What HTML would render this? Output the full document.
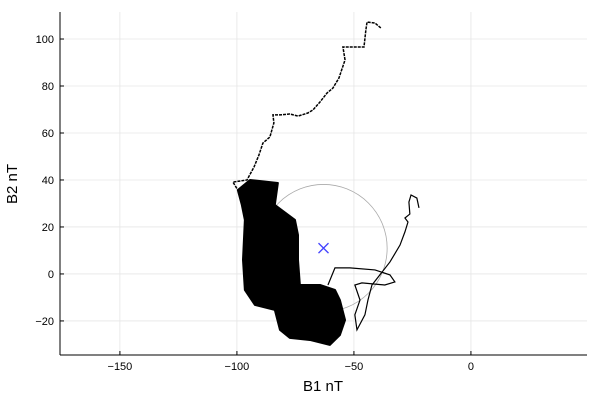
<!DOCTYPE html>
<html><head><meta charset="utf-8"><style>
body{margin:0;background:#fff}
svg{display:block;font-family:"Liberation Sans",sans-serif}
</style></head><body>
<svg id="chart" width="600" height="400">
<g id="grid"></g>
<g id="plot"></g>
<g id="axes"></g>
<text x="323" y="391" font-size="15" text-anchor="middle">B1 nT</text>
<text transform="translate(17,184) rotate(-90)" font-size="15" text-anchor="middle">B2 nT</text>
</svg>
<script>
const xTicks=[-150,-100,-50,0];
const yTicks=[-20,0,20,40,60,80,100];
const pathX=[-38.5,-41.0,-44.4,-44.9,-45.7,-50.9,-54.7,-53.8,-56.4,-59.0,-61.5,-64.5,-67.5,-69.7,-73.9,-77.4,-81.6,-84.6,-84.2,-85.9,-88.9,-90.6,-92.7,-95.7,-101.7,-99.6];
const pathY=[104.7,106.8,107.2,103.8,96.6,96.6,96.6,91.1,83.4,79.1,77.0,73.2,69.8,68.5,67.2,68.1,67.7,67.7,64.3,58.3,55.7,50.6,45.5,40.0,39.1,35.7];
const blobX=[-94.4,-82.5,-83.8,-75.2,-73.9,-73.9,-73.1,-64.5,-58.1,-56.0,-53.8,-56.0,-60.3,-68.8,-77.4,-81.6,-83.8,-92.3,-96.6,-97.4,-96.6,-97.9,-99.6];
const blobY=[40.0,38.7,29.4,23.0,16.6,6.0,-4.7,-4.7,-6.8,-11.1,-19.6,-26.0,-30.2,-28.1,-27.2,-23.8,-15.3,-13.2,-6.8,6.0,23.0,29.4,35.7];
const exX=[-61.1,-58.1,-51.7,-41.0,-34.6,-32.5,-36.8,-46.6,-49.6,-47.4,-49.6,-48.7,-45.3,-44.0,-42.3,-34.6,-30.3,-28.2,-26.9,-28.2,-26.1,-26.5,-25.6,-23.1,-22.2];
const exY=[-4.7,2.6,2.6,1.7,-0.4,-3.4,-4.7,-3.8,-4.7,-11.1,-17.4,-23.8,-17.4,-11.1,-4.7,5.1,12.3,17.9,22.1,23.8,25.5,30.6,33.6,32.3,28.1];
const center=[-63,11];
const radius=[27.2];
const X0=-175.6,X1=49.6,Y0=-34.5,Y1=111.5;
const L=60,R=587,T=12,B=355;
const sx=v=>L+(v-X0)/(X1-X0)*(R-L);
const sy=v=>B-(v-Y0)/(Y1-Y0)*(B-T);
const NS='http://www.w3.org/2000/svg';
function mk(tag,attrs,parent){const e=document.createElementNS(NS,tag);for(const k in attrs)e.setAttribute(k,attrs[k]);parent.appendChild(e);return e;}
const grid=document.getElementById('grid'),plot=document.getElementById('plot'),axes=document.getElementById('axes');
xTicks.forEach(t=>{
 const g=mk('line',{x1:sx(t),x2:sx(t),y1:T,y2:B,stroke:'#e6e6e6','stroke-width':0.8},grid);
 
 
 const tk=mk('line',{x1:sx(t),x2:sx(t),y1:B,y2:B-4,stroke:'#000'},axes);
 
 
 const tx=mk('text',{x:sx(t),y:B+15,'font-size':11,'text-anchor':'middle'},axes);
 tx.textContent='\u2212'.repeat(t<0?1:0)+Math.abs(t);
 
 
});
yTicks.forEach(t=>{
 const g=mk('line',{x1:L,x2:R,y1:sy(t),y2:sy(t),stroke:'#e6e6e6','stroke-width':0.8},grid);
 
 
 const tk=mk('line',{x1:L,x2:L+4,y1:sy(t),y2:sy(t),stroke:'#000'},axes);
 
 
 const tx=mk('text',{x:L-6,y:sy(t)+4,'font-size':11,'text-anchor':'end'},axes);
 tx.textContent='\u2212'.repeat(t<0?1:0)+Math.abs(t);
 
 
});
const ax1=mk('line',{x1:L,x2:L,y1:T,y2:B,stroke:'#000'},axes);


const ax2=mk('line',{x1:L,x2:R,y1:B,y2:B,stroke:'#000'},axes);


const pts=(xs,ys)=>xs.map((v,i)=>sx(v)+','+sy(ys[i])).join(' ');
const c=mk('circle',{cx:sx(center[0]),cy:sy(center[1]),r:sx(center[0]+radius[0])-sx(center[0]),fill:'none',stroke:'#aaa','stroke-width':0.8},plot);


const p1=mk('polyline',{points:pts(pathX,pathY),fill:'none',stroke:'#000','stroke-width':1.5,'stroke-dasharray':'3 1'},plot);


const p2=mk('polygon',{points:pts(blobX,blobY),fill:'#000',stroke:'#000','stroke-width':2,'stroke-linejoin':'round'},plot);


const p3=mk('polyline',{points:pts(exX,exY),fill:'none',stroke:'#000','stroke-width':1.2},plot);


const cx=sx(center[0]),cy=sy(center[1]);
const m=mk('path',{d:`M${cx-5},${cy-5}L${cx+5},${cy+5}M${cx-5},${cy+5}L${cx+5},${cy-5}`,stroke:'#4444ff','stroke-width':1.3},plot);


</script>
</body></html>
